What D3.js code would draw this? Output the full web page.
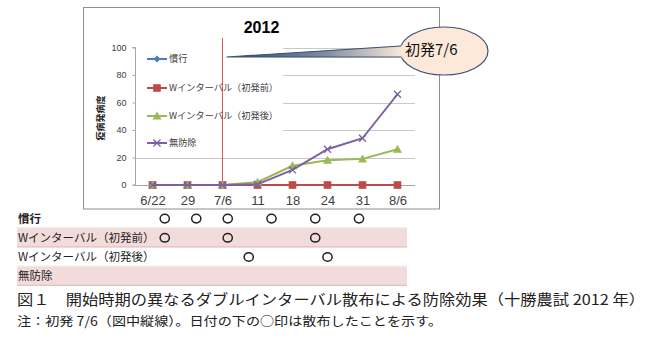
<!DOCTYPE html>
<html><head><meta charset="utf-8">
<script src="https://cdn.jsdelivr.net/npm/d3@7/dist/d3.min.js"></script>
<style>body{margin:0;background:#fff}svg{display:block}</style>
</head><body>
<script>
const dates = ["6/22","29","7/6","11","18","24","31","8/6"];
const seriesNames = ["慣行","Wインターバル（初発前）","Wインターバル（初発後）","無防除"];
const kanko = [0,0,0,0,0,0,0,0];
const wBefore = [0,0,0,0,0,0,0,0];
const wAfter = [0,0,0,2,14,18,19,26];
const mubojo = [0,0,0,0.5,11,26,34,66];
const yTicks = [0,20,40,60,80,100];
const onsetDate = "7/6";
// spray timing, as fractional position along the date columns
const sprayKanko = [0.35,1.25,2.15,3.4,4.65,5.9];
const sprayBefore = [0.35,2.15,4.65];
const sprayAfter = [2.75,5.0];
const sprayNone = [];

const W=650,H=356;
const svg=d3.select("body").append("svg").attr("width",W).attr("height",H);
const jp='"Noto Sans CJK JP","Noto Sans",sans-serif';
const lat='"Liberation Sans",Arial,sans-serif';

const x=d3.scalePoint().domain(dates).range([135,415]).padding(0.5);
const y=d3.scaleLinear().domain([0,100]).range([185,47.5]);
const xs=d3.scaleLinear().domain([0,dates.length-1]).range([x(dates[0]),x(dates[dates.length-1])]);

// chart frame
svg.append("rect").attr("x",83.5).attr("y",7.5).attr("width",356).attr("height",201.5)
  .attr("fill","#fff").attr("stroke","#8f8f8f");

// gridlines
svg.append("g").selectAll("line").data(yTicks.filter(d=>d>0)).join("line")
  .attr("x1",135).attr("x2",415).attr("y1",d=>Math.round(y(d))+0.5).attr("y2",d=>Math.round(y(d))+0.5)
  .attr("stroke","#c8c8c8");

// y axis
const ya=svg.append("g").attr("transform","translate(135.5,0)")
  .call(d3.axisLeft(y).tickValues(yTicks).tickSize(3).tickPadding(6));
ya.select(".domain").attr("stroke","#a6a6a6").attr("d","M-3,"+y(100)+"H0V"+y(0)+"H-3");
ya.selectAll(".tick line").attr("stroke","#a6a6a6");
ya.selectAll("text").attr("font-family",lat).attr("font-size",9).attr("fill","#404040");

// x axis
const xa=svg.append("g").attr("transform","translate(0,185.5)")
  .call(d3.axisBottom(x).tickSize(0).tickPadding(10));
xa.select(".domain").attr("stroke","#a6a6a6").attr("d","M135,0H415");
xa.selectAll("text").attr("font-family",lat).attr("font-size",13).attr("fill","#404040");

// legend background
svg.append("rect").attr("x",136).attr("y",40).attr("width",147).attr("height",110).attr("fill","#fff");

// title
svg.append("text").attr("x",261.5).attr("y",33).attr("text-anchor","middle")
  .attr("font-family",lat).attr("font-weight","bold").attr("font-size",16).text("2012");

// y title
svg.append("text").attr("transform","translate(104,118) rotate(-90)").attr("text-anchor","middle")
  .attr("font-family",jp).attr("font-weight","bold").attr("font-size",9).attr("fill","#222").text("疫病発病度");

// onset line
svg.append("line").attr("x1",x(onsetDate)).attr("x2",x(onsetDate)).attr("y1",38).attr("y2",185)
  .attr("stroke","#e05555").attr("stroke-width",1);

const series=[
  {name:seriesNames[0],values:kanko,color:"#4a7ebb",marker:"diamond"},
  {name:seriesNames[1],values:wBefore,color:"#be4b48",marker:"square"},
  {name:seriesNames[2],values:wAfter,color:"#98b954",marker:"triangle"},
  {name:seriesNames[3],values:mubojo,color:"#7d60a0",marker:"x"}
];
function marker(g,type,color,cx,cy){
  if(type==="diamond") g.append("path").attr("d",`M${cx},${cy-3.5}L${cx+3.5},${cy}L${cx},${cy+3.5}L${cx-3.5},${cy}Z`).attr("fill",color);
  else if(type==="square") g.append("rect").attr("x",cx-3.8).attr("y",cy-3.8).attr("width",7.6).attr("height",7.6).attr("fill",color);
  else if(type==="triangle") g.append("path").attr("d",`M${cx},${cy-4.5}L${cx+4.5},${cy+3.5}L${cx-4.5},${cy+3.5}Z`).attr("fill",color);
  else g.append("path").attr("d",`M${cx-3.5},${cy-3.5}L${cx+3.5},${cy+3.5}M${cx+3.5},${cy-3.5}L${cx-3.5},${cy+3.5}`).attr("stroke",color).attr("stroke-width",1.3).attr("fill","none");
}
const line=d3.line().x((d,i)=>x(dates[i])).y(d=>y(d));
const sg=svg.append("g");
series.forEach(s=>{
  const g=sg.append("g");
  g.append("path").attr("d",line(s.values)).attr("fill","none").attr("stroke",s.color).attr("stroke-width",2);
  s.values.forEach((v,i)=>marker(g,s.marker,s.color,x(dates[i]),y(v)));
});

// legend
const legY=[59,88,116,143];
series.forEach((s,i)=>{
  const g=svg.append("g");
  g.append("line").attr("x1",147).attr("x2",167).attr("y1",legY[i]).attr("y2",legY[i]).attr("stroke",s.color).attr("stroke-width",2);
  marker(g,s.marker,s.color,157,legY[i]);
  g.append("text").attr("x",169).attr("y",legY[i]).attr("dy","0.35em").attr("font-family",jp)
    .attr("font-size",9.2).attr("fill","#404040").text(s.name);
});

// callout
const defs=svg.append("defs");
const gr=defs.append("linearGradient").attr("id","tail").attr("x1","0").attr("x2","1").attr("y1","0").attr("y2","0");
gr.append("stop").attr("offset","0").attr("stop-color","#2c4770");
gr.append("stop").attr("offset","0.55").attr("stop-color","#7d8aa0");
gr.append("stop").attr("offset","1").attr("stop-color","#fde9d9");
const tip=[x(onsetDate)+4,57];
svg.append("ellipse").attr("cx",444).attr("cy",51).attr("rx",44).attr("ry",24)
  .attr("fill","#fde9d9").attr("stroke","#3d5274").attr("stroke-width",1.2);
svg.append("path").attr("d",`M${tip[0]},${tip[1]}L403,45.5L403,57.5Z`).attr("fill","url(#tail)");
svg.append("path").attr("d",`M401,46L${tip[0]},${tip[1]}L401.4,57`).attr("fill","none").attr("stroke","#3d5274").attr("stroke-width",1.2);
svg.append("text").attr("x",405).attr("y",50).attr("dy","0.35em").attr("font-family",jp)
  .attr("font-size",15).attr("fill","#111").text("初発"+onsetDate);

// spray table
const rowNames=seriesNames;
const sprays=[sprayKanko,sprayBefore,sprayAfter,sprayNone];
const rowTop=209, rowH=19.2;
rowNames.forEach((n,i)=>{
  const top=rowTop+i*rowH;
  if(i%2===1){
    svg.append("rect").attr("x",17).attr("y",top).attr("width",390).attr("height",rowH).attr("fill","#f2dcdb");
  }
  svg.append("line").attr("x1",17).attr("x2",407).attr("y1",top+rowH-0.5).attr("y2",top+rowH-0.5)
    .attr("stroke",i%2===1?"#e3b8b7":"#f3e4e4");
  svg.append("text").attr("x",18).attr("y",top+rowH/2).attr("dy","0.36em").attr("font-family",jp)
    .attr("font-size",11.5).attr("font-weight",i===0?"bold":"normal").attr("fill","#222").text(n);
  svg.append("g").selectAll("ellipse").data(sprays[i]).join("ellipse")
    .attr("cx",d=>xs(d)).attr("cy",top+rowH/2).attr("rx",4.6).attr("ry",4.3)
    .attr("fill","none").attr("stroke","#222").attr("stroke-width",1.5);
});

// captions
svg.append("text").attr("x",17).attr("y",300).attr("dy","0.36em").attr("font-family",jp)
  .attr("font-size",14.5).attr("fill","#222").attr("textLength",628).attr("lengthAdjust","spacingAndGlyphs")
  .text("図１　開始時期の異なるダブルインターバル散布による防除効果（十勝農試 2012 年）");
svg.append("text").attr("x",17).attr("y",321).attr("dy","0.36em").attr("font-family",jp)
  .attr("font-size",12.5).attr("fill","#222").attr("textLength",425).attr("lengthAdjust","spacingAndGlyphs")
  .text("注：初発 7/6（図中縦線）。日付の下の○印は散布したことを示す。");
</script>
</body></html>
